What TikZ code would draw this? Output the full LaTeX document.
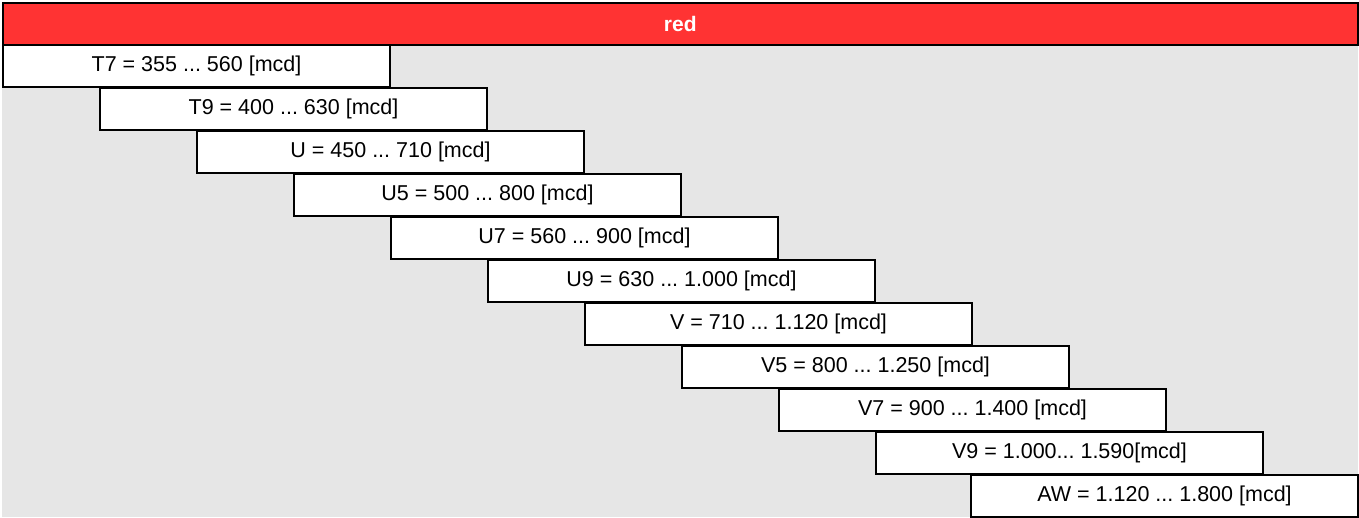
\documentclass[tikz,border=0pt]{standalone}
\usepackage{fontspec}
\setmainfont{Liberation Sans}
\frenchspacing
\definecolor{hdrred}{HTML}{FF3333}
\definecolor{bggray}{HTML}{E6E6E6}
\tikzset{
  rangebox/.style={draw=black, line width=2pt, fill=white, minimum width=387pt, minimum height=42pt, inner sep=0pt, anchor=north west, font=\fontsize{21.5}{24}\selectfont},
  header/.style={draw=black, line width=2.5pt, fill=hdrred, minimum width=1355pt, minimum height=42pt, inner sep=0pt, anchor=north west, text=white, font=\fontsize{21}{24}\selectfont\bfseries}
}
\begin{document}
\begin{tikzpicture}[x=1pt,y=-1pt]
\useasboundingbox (0,0) rectangle (1359,517);
\fill[bggray] (2,44) rectangle (1358,517);
\node[header] (hdr) at (1.5,1.5) {red};
\node[rangebox] (b1) at (2,44) {T7 = 355 ... 560 [mcd]};
\node[rangebox] (b2) at (99,87) {T9 = 400 ... 630 [mcd]};
\node[rangebox] (b3) at (196,130) {U = 450 ... 710 [mcd]};
\node[rangebox] (b4) at (293,173) {U5 = 500 ... 800 [mcd]};
\node[rangebox] (b5) at (390,216) {U7 = 560 ... 900 [mcd]};
\node[rangebox] (b6) at (487,259) {U9 = 630 ... 1.000 [mcd]};
\node[rangebox] (b7) at (584,302) {V = 710 ... 1.120 [mcd]};
\node[rangebox] (b8) at (681,345) {V5 = 800 ... 1.250 [mcd]};
\node[rangebox] (b9) at (778,388) {V7 = 900 ... 1.400 [mcd]};
\node[rangebox] (b10) at (875,431) {V9 = 1.000... 1.590[mcd]};
\node[rangebox] (b11) at (970,474) {AW = 1.120 ... 1.800 [mcd]};
\end{tikzpicture}
\end{document}
